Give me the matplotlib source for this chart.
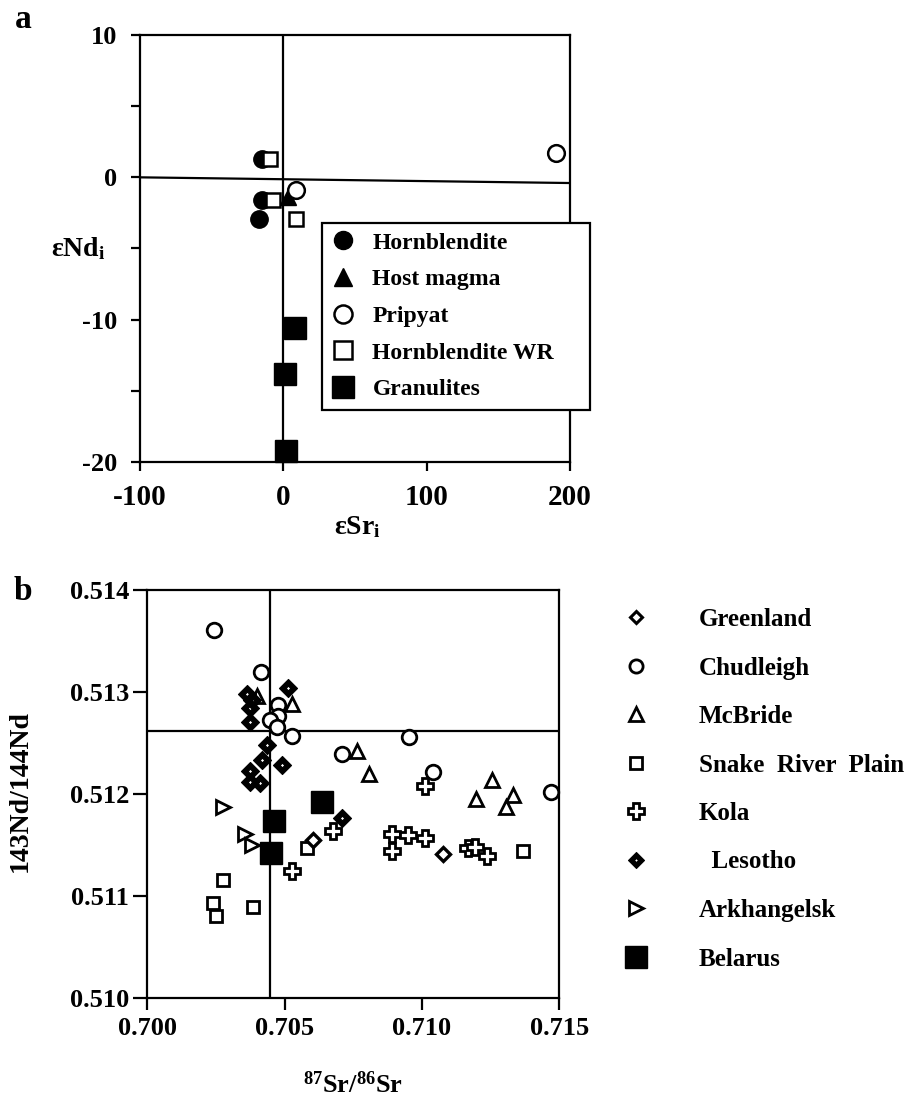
import matplotlib
matplotlib.use("Agg")
import matplotlib.pyplot as plt
from matplotlib.lines import Line2D
from matplotlib.path import Path
from matplotlib.ticker import FormatStrFormatter

plt.rcParams['font.family'] = ['Liberation Serif', 'DejaVu Serif']
plt.rcParams['font.weight'] = 'bold'
plt.rcParams['axes.unicode_minus'] = False
plt.rcParams['mathtext.fontset'] = 'custom'
plt.rcParams['mathtext.rm'] = 'Liberation Serif:bold'
plt.rcParams['mathtext.it'] = 'Liberation Serif:bold'
plt.rcParams['mathtext.bf'] = 'Liberation Serif:bold'

# ---------------- panel a: initial epsilon Sr vs epsilon Nd ----------------
hbl_esr = [-15, -15, -17]
hbl_end = [1.3, -1.6, -2.9]
host_esr = [3]
host_end = [-1.4]
pripyat_esr = [9, 190]
pripyat_end = [-0.9, 1.7]
hblwr_esr = [-9, -7, 9]
hblwr_end = [1.3, -1.6, -2.9]
gran_esr = [8, 1, 2]
gran_end = [-10.6, -13.8, -19.2]

a_xticks = [-100, 0, 100, 200]
a_yticks = [-20, -10, 0, 10]
a_yminor = [-15, -5, 5]
a_zero_x = [-100, 200]
a_zero_y = [0, -0.4]

# ---------------- panel b: 87Sr/86Sr vs 143Nd/144Nd ----------------
greenland_sr = [0.70604, 0.71075]
greenland_nd = [0.51155, 0.51141]
chudleigh_sr = [0.70243, 0.70414, 0.70477, 0.70477, 0.70447, 0.70471,
                0.70526, 0.70708, 0.70953, 0.71041, 0.71469]
chudleigh_nd = [0.51361, 0.51320, 0.51287, 0.51276, 0.51273, 0.51266,
                0.51257, 0.51239, 0.51256, 0.51222, 0.51202]
mcbride_sr = [0.70398, 0.70526, 0.70765, 0.70807, 0.71256, 0.71197, 0.71330, 0.71305]
mcbride_nd = [0.51296, 0.51288, 0.51242, 0.51220, 0.51214, 0.51195, 0.51199, 0.51187]
snake_sr = [0.70277, 0.70238, 0.70250, 0.70386, 0.70580, 0.71367]
snake_nd = [0.51116, 0.51093, 0.51080, 0.51089, 0.51147, 0.51144]
kola_sr = [0.70526, 0.70675, 0.71011, 0.70890, 0.70950, 0.71011,
           0.70890, 0.71169, 0.71193, 0.71236]
kola_nd = [0.51125, 0.51164, 0.51208, 0.51161, 0.51160, 0.51157,
           0.51144, 0.51147, 0.51148, 0.51139]
lesotho_sr = [0.70362, 0.70383, 0.70374, 0.70374, 0.70513, 0.70435, 0.70416,
              0.70489, 0.70374, 0.70374, 0.70410, 0.70708]
lesotho_nd = [0.51298, 0.51292, 0.51284, 0.51271, 0.51304, 0.51248, 0.51233,
              0.51228, 0.51223, 0.51212, 0.51211, 0.51176]
arkh_sr = [0.70277, 0.70356, 0.70380]
arkh_nd = [0.51187, 0.51161, 0.51150]
belarus_sr = [0.70635, 0.70462, 0.70449]
belarus_nd = [0.51192, 0.51174, 0.51142]

b_xticks = [0.700, 0.705, 0.710, 0.715]
b_yticks = [0.510, 0.511, 0.512, 0.513, 0.514]
b_ref_sr = 0.70447
b_ref_nd = 0.51262

# filled diamond with a small white centre
_v = [(0, 1), (1, 0), (0, -1), (-1, 0), (0, 1),
      (0, 0.26), (-0.26, 0), (0, -0.26), (0.26, 0), (0, 0.26)]
_c = [Path.MOVETO, Path.LINETO, Path.LINETO, Path.LINETO, Path.CLOSEPOLY] * 2
dotted_diamond = Path(_v, _c)

fig = plt.figure(figsize=(9.08, 11), dpi=100)

# ================= panel a =================
ax = fig.add_axes([140 / 908, 1 - 462 / 1100, 430 / 908, 427 / 1100])
ax.set_xlim(-100, 200)
ax.set_ylim(-20, 10)
ax.plot(a_zero_x, a_zero_y, color='black', lw=1.6, zorder=1)
ax.axvline(0, color='black', lw=1.6, zorder=1)

kw = dict(linestyle='none', clip_on=False, zorder=3)
ax.plot(hbl_esr, hbl_end, marker='o', ms=12.5, mfc='black', mec='black', **kw)
ax.plot(host_esr, host_end, marker='^', ms=12, mfc='black', mec='black', **kw)
ax.plot(hblwr_esr, hblwr_end, marker='s', ms=10, mfc='white', mec='black', mew=1.8, **kw)
ax.plot(pripyat_esr, pripyat_end, marker='o', ms=12, mfc='white', mec='black', mew=1.8, **kw)
ax.plot(gran_esr, gran_end, marker='s', ms=16, mfc='black', mec='black', **kw)

ax.set_xticks(a_xticks)
ax.set_yticks(a_yticks)
ax.set_yticks(a_yminor, minor=True)
ax.tick_params(axis='both', which='both', direction='out', width=1.6, length=6.5, color='black')
ax.tick_params(axis='x', labelsize=21, pad=9)
ax.tick_params(axis='y', labelsize=19, pad=10)
ax.yaxis.set_minor_formatter(FormatStrFormatter(''))
for s in ax.spines.values():
    s.set_linewidth(1.6)

hand_a = [
    Line2D([], [], linestyle='none', marker='o', ms=13, mfc='black', mec='black'),
    Line2D([], [], linestyle='none', marker='^', ms=13, mfc='black', mec='black'),
    Line2D([], [], linestyle='none', marker='o', ms=13, mfc='white', mec='black', mew=1.8),
    Line2D([], [], linestyle='none', marker='s', ms=13, mfc='white', mec='black', mew=1.8),
    Line2D([], [], linestyle='none', marker='s', ms=16, mfc='black', mec='black'),
]
lab_a = ['Hornblendite', 'Host magma', 'Pripyat', 'Hornblendite WR', 'Granulites']
leg_a = ax.legend(hand_a, lab_a, loc='upper left',
                  bbox_to_anchor=(0.4226, 0.11, 0.6239, 0.4504), mode='expand',
                  borderaxespad=0, prop={'size': 17, 'weight': 'bold'},
                  frameon=True, fancybox=False, edgecolor='black',
                  handlelength=1.0, handletextpad=0.75, borderpad=0.4,
                  labelspacing=0.64)
leg_a.get_frame().set_linewidth(1.6)
leg_a.get_frame().set_alpha(1)
leg_a.set_zorder(5)

fig.text(23 / 908, 1 - 20 / 1100, 'a', fontsize=24, fontweight='bold', ha='center', va='center')
fig.text(78 / 908, 1 - 249 / 1100, 'εNd$_\\mathbf{i}$', fontsize=20, ha='center', va='center')
fig.text(357 / 908, 1 - 527 / 1100, 'εSr$_\\mathbf{i}$', fontsize=20, ha='center', va='center')

# ================= panel b =================
bx = fig.add_axes([147.3 / 908, 1 - 998 / 1100, 412 / 908, 408 / 1100])
bx.set_xlim(0.700, 0.715)
bx.set_ylim(0.510, 0.514)
bx.axvline(b_ref_sr, color='black', lw=1.6, zorder=1)
bx.axhline(b_ref_nd, color='black', lw=1.6, zorder=1)

bx.plot(chudleigh_sr, chudleigh_nd, marker='o', ms=10.5, mfc='white', mec='black', mew=2.0, **kw)
bx.plot(mcbride_sr, mcbride_nd, marker='^', ms=10.5, mfc='white', mec='black', mew=2.0, **kw)
bx.plot(snake_sr, snake_nd, marker='s', ms=9, mfc='white', mec='black', mew=2.0, **kw)
bx.plot(kola_sr, kola_nd, marker='P', ms=12, mfc='white', mec='black', mew=2.0, **kw)
bx.plot(arkh_sr, arkh_nd, marker='>', ms=10.5, mfc='white', mec='black', mew=2.0, **kw)
bx.plot(lesotho_sr, lesotho_nd, marker=dotted_diamond, ms=13, mfc='black', mec='black', mew=0.8, **kw)
bx.plot(greenland_sr, greenland_nd, marker='D', ms=7.5, mfc='white', mec='black', mew=2.4, **kw)
bx.plot(belarus_sr, belarus_nd, marker='s', ms=16, mfc='black', mec='black', **kw)

bx.set_xticks(b_xticks)
bx.set_yticks(b_yticks)
bx.xaxis.set_major_formatter(FormatStrFormatter('%.3f'))
bx.yaxis.set_major_formatter(FormatStrFormatter('%.3f'))
bx.tick_params(axis='both', direction='out', width=1.6, color='black', labelsize=19)
bx.tick_params(axis='x', length=8.5, pad=5)
bx.tick_params(axis='y', length=10, pad=3)
for s in bx.spines.values():
    s.set_linewidth(1.6)

hand_b = [
    Line2D([], [], linestyle='none', marker='D', ms=6, mfc='white', mec='black', mew=2.2),
    Line2D([], [], linestyle='none', marker='o', ms=9.5, mfc='white', mec='black', mew=2.0),
    Line2D([], [], linestyle='none', marker='^', ms=9.5, mfc='white', mec='black', mew=2.0),
    Line2D([], [], linestyle='none', marker='s', ms=8.5, mfc='white', mec='black', mew=2.0),
    Line2D([], [], linestyle='none', marker='P', ms=11, mfc='white', mec='black', mew=2.0),
    Line2D([], [], linestyle='none', marker=dotted_diamond, ms=11.5, mfc='black', mec='black', mew=0.8),
    Line2D([], [], linestyle='none', marker='>', ms=9.5, mfc='white', mec='black', mew=2.0),
    Line2D([], [], linestyle='none', marker='s', ms=16, mfc='black', mec='black'),
]
lab_b = ['Greenland', 'Chudleigh', 'McBride', 'Snake  River  Plain', 'Kola',
         '  Lesotho', 'Arkhangelsk', 'Belarus']
leg_b = fig.legend(hand_b, lab_b, loc='upper left',
                   bbox_to_anchor=(620 / 908, 1 - 608 / 1100),
                   bbox_transform=fig.transFigure, frameon=False,
                   prop={'size': 18, 'weight': 'bold'}, borderpad=0,
                   borderaxespad=0, handlelength=1.3, handletextpad=1.85,
                   labelspacing=1.02)

fig.text(23 / 908, 1 - 592 / 1100, 'b', fontsize=24, fontweight='bold', ha='center', va='center')
fig.text(20 / 908, 1 - 791 / 1100, '143Nd/144Nd', fontsize=20, rotation=90,
         ha='center', va='center')
fig.text(353 / 908, 1 - 1085 / 1100, '$^{87}$Sr/$^{86}$Sr', fontsize=19,
         ha='center', va='center')

fig.savefig('out.png', dpi=100, facecolor='white')
